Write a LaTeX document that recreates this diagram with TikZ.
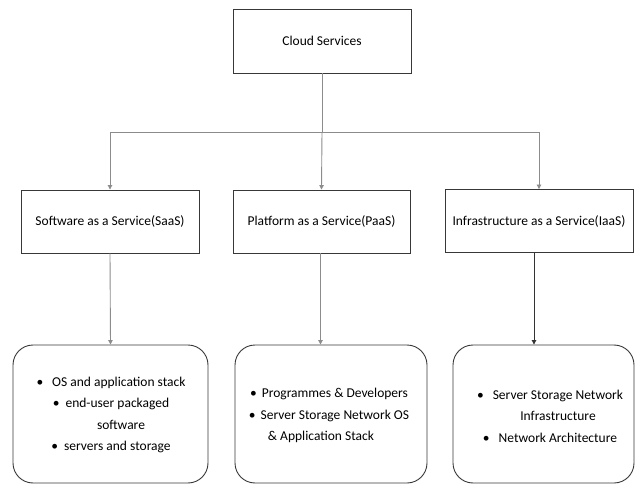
\documentclass[tikz,border=0pt]{standalone}
\usepackage{fontspec}
\setmainfont{Carlito}
\usetikzlibrary{arrows.meta}
\definecolor{edgegray}{HTML}{383838}
\definecolor{wiregray}{HTML}{8C8C8C}
\begin{document}
\begin{tikzpicture}[x=1pt,y=-1pt,
  every node/.style={font=\fontsize{13.5}{21.5}\selectfont, text=black},
  boxnode/.style={draw=edgegray, line width=0.9pt, rectangle, inner sep=0pt, align=center},
  listnode/.style={draw=edgegray, line width=0.9pt, rectangle, rounded corners=20pt, inner sep=0pt, align=center},
  wire/.style={draw=wiregray, line width=0.9pt},
  arrowwire/.style={wire, -{Triangle[width=4.5pt,length=4.5pt]}},
]
\useasboundingbox (0,0) rectangle (635,484);

% top level
\node[boxnode, minimum width=178pt, minimum height=64pt] (cloud) at (322,41) {Cloud Services};

% service models
\node[boxnode, minimum width=178pt, minimum height=63pt] (saas) at (110,221.5) {Software as a Service(SaaS)};
\node[boxnode, minimum width=177pt, minimum height=63pt] (paas) at (321.5,221.5) {Platform as a Service(PaaS)};
\node[boxnode, minimum width=188pt, minimum height=63pt] (iaas) at (539,221) {Infrastructure as a Service(IaaS)};

% detail boxes
\node[listnode, minimum width=195pt, minimum height=138pt] (saasd) at (110.5,414) {};
\node[listnode, minimum width=192pt, minimum height=138pt] (paasd) at (331,414) {};
\node[listnode, minimum width=181pt, minimum height=138pt] (iaasd) at (543.5,414) {};

\node[align=center, inner sep=0pt] (saast) at (111,415) {%
  \textbullet\hspace{9pt}OS and application stack\\
  \textbullet\hspace{6pt}end-user packaged\\
  \hspace*{20pt}software\\
  \textbullet\hspace{6pt}servers and storage};
\node[align=center, inner sep=0pt] (paast) at (329,415.5) {%
  \textbullet\hspace{5pt}Programmes \& Developers\\
  \textbullet\hspace{5pt}Server Storage Network OS\\
  \hspace*{-16pt}\& Application Stack};
\node[align=center, inner sep=0pt] (iaast) at (550,416) {%
  \textbullet\hspace{9pt}Server Storage Network\\
  \hspace*{16pt}Infrastructure\\
  \textbullet\hspace{9pt}Network Architecture};

% connectors
\coordinate (hub) at (322,132);
\draw[wire] (cloud.south) -- (hub);
\draw[arrowwire] (hub) -| (saas.north);
\draw[arrowwire] (hub) -- (paas.north);
\draw[arrowwire] (hub) -| (iaas.north);
\draw[arrowwire] (saas.south) -- (saasd.north);
\draw[arrowwire] ([xshift=-1pt]paas.south) -- ([xshift=-1pt]paas.south |- paasd.north);
\draw[arrowwire, draw=black!80] ([xshift=-5pt]iaas.south) -- ([xshift=-5pt]iaas.south |- iaasd.north);
\end{tikzpicture}
\end{document}
